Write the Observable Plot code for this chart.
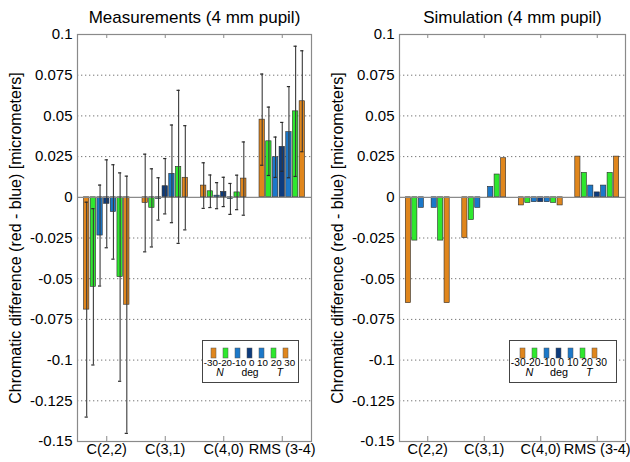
<!DOCTYPE html>
<html><head><meta charset="utf-8">
<script src="https://cdn.jsdelivr.net/npm/d3@7"></script>
<script src="https://cdn.jsdelivr.net/npm/@observablehq/plot@0.6"></script>
<style>
body{margin:0;background:#fff;}
#wrap{position:relative;width:630px;height:462px;overflow:hidden;background:#fff;}
#wrap > .p{position:absolute;top:0;}
#wrap > .lg{position:absolute;}
</style></head><body><div id="wrap"></div>
<script>
// ---- data ----
const groups = ["C(2,2)", "C(3,1)", "C(4,0)", "RMS (3-4)"];
const angles = ["-30", "-20", "-10", "0", "10", "20", "30"];
const angleColors = ["#e0861c", "#2ee82e", "#1b78c9", "#0d3b7d", "#1b78c9", "#2ee82e", "#e0861c"];
const legendSub = [["-30", "N"], ["0", "deg"], ["20", "T"]];
const yTicks = [-0.15, -0.125, -0.1, -0.075, -0.05, -0.025, 0, 0.025, 0.05, 0.075, 0.1];

// Measurements (4 mm pupil): mean and error, rows = groups, columns = angles
const measC22 = [-0.069, -0.055, -0.0235, -0.004, -0.009, -0.049, -0.066];
const measC31 = [-0.0035, -0.0065, -0.001, 0.0068, 0.0144, 0.0187, 0.012];
const measC40 = [0.0072, 0.0037, 0.001, 0.0033, -0.001, 0.003, 0.0115];
const measRMS = [0.0477, 0.0344, 0.0246, 0.031, 0.040, 0.0528, 0.059];
const errC22 = [0.066, 0.048, 0.031, 0.027, 0.029, 0.064, 0.079];
const errC31 = [0.030, 0.024, 0.013, 0.017, 0.030, 0.047, 0.032];
const errC40 = [0.014, 0.010, 0.008, 0.009, 0.0095, 0.0106, 0.0225];
const errRMS = [0.028, 0.021, 0.0124, 0.015, 0.028, 0.040, 0.031];

// Simulation (4 mm pupil)
const simC22 = [-0.065, -0.0266, -0.0065, 0, -0.0065, -0.0266, -0.065];
const simC31 = [-0.025, -0.014, -0.0065, 0, 0.0064, 0.014, 0.024];
const simC40 = [-0.005, -0.0035, -0.003, -0.003, -0.003, -0.0035, -0.005];
const simRMS = [0.025, 0.015, 0.0072, 0.003, 0.0072, 0.015, 0.025];

const titles = ["Measurements (4 mm pupil)", "Simulation (4 mm pupil)"];
const yLabel = "Chromatic difference (red - blue) [micrometers]";

// ---- build tables ----
function table(vals, errs) {
  const out = [];
  vals.forEach((row, gi) => row.forEach((v, k) => out.push({
    gi: gi + 1, k, v, e: errs ? errs[gi][k] : null, c: angleColors[k]
  })));
  return out;
}
const measData = table([measC22, measC31, measC40, measRMS], [errC22, errC31, errC40, errRMS]);
const simData = table([simC22, simC31, simC40, simRMS], null);
const legendRow = angles.map((a, i) => (i > 0 && !a.startsWith("-") ? " " : "") + a).join("");

const FONT = "'Liberation Sans', Arial, Helvetica, sans-serif";
const H = 462, MT = 34, MB = 21;
const STEP = 0.8 / 7, BW = STEP * 0.8;
const groupPos = groups.map((g, i) => i + 1);

function panel(data, title, width, ml, mr, withErr) {
  const fw = width - ml - mr, fh = H - MT - MB;
  const cap = 1.6 * 4 / fw;
  const cx = d => d.gi + (d.k - 3) * STEP;
  const marks = [
    Plot.ruleY(yTicks.filter(t => t !== 0 && t !== 0.1 && t !== -0.15), {y: d => d, stroke: "#666", strokeDasharray: "1.3,2.7", strokeWidth: 0.9}),
    Plot.rect(data, {x1: d => cx(d) - BW / 2, x2: d => cx(d) + BW / 2, y1: () => 0, y2: d => d.v,
      fill: d => d.c, stroke: "#2a2a2a", strokeWidth: 0.6}),
    Plot.ruleY([0], {stroke: "#8a8a8a", strokeWidth: 1.2}),
  ];
  if (withErr) {
    marks.push(
      Plot.ruleX(data, {x: cx, y1: d => d.v - d.e, y2: d => d.v + d.e, stroke: "#3a3a3a", strokeWidth: 1.1}),
      Plot.ruleY(data, {y: d => d.v - d.e, x1: d => cx(d) - cap, x2: d => cx(d) + cap, stroke: "#2a2a2a", strokeWidth: 1.2}),
      Plot.ruleY(data, {y: d => d.v + d.e, x1: d => cx(d) - cap, x2: d => cx(d) + cap, stroke: "#2a2a2a", strokeWidth: 1.2})
    );
  }
  marks.push(
    Plot.frame({stroke: "#8a8a8a", strokeWidth: 1.2}),
    Plot.ruleX(groupPos, {x: d => d, insetTop: fh - 5, stroke: "#8a8a8a"}),
    Plot.ruleX(groupPos, {x: d => d, insetBottom: fh - 4, stroke: "#8a8a8a"}),
    Plot.axisY(yTicks, {tickFormat: d => String(+d.toFixed(3)), tickSize: 0, tickPadding: 5, fontSize: 15, label: null}),
    Plot.axisX(groupPos, {tickFormat: i => groups[i - 1], tickSize: 0, tickPadding: 2, fontSize: 14.5, label: null}),
    Plot.text([title], {text: d => d, frameAnchor: "top", dy: -17, lineAnchor: "middle", fontSize: 17}),
    Plot.text([yLabel], {text: d => d, frameAnchor: "left", textAnchor: "middle", dx: -62, rotate: -90, lineAnchor: "middle", fontSize: 16})
  );
  return Plot.plot({
    width, height: H, marginLeft: ml, marginRight: mr, marginTop: MT, marginBottom: MB,
    style: {fontFamily: FONT, color: "#000", background: "transparent", overflow: "visible"},
    x: {domain: [0.5, 4.5]},
    y: {domain: [-0.15, 0.1]},
    marks
  });
}

function legend(step, w, fs, firstCenter) {
  const h = 41;
  const start = firstCenter - step / 2;
  const mid = start + step * 3.5;
  return Plot.plot({
    width: w, height: h, marginTop: 7, marginBottom: 24, marginLeft: 0, marginRight: 0,
    style: {fontFamily: FONT, color: "#000", background: "#fff", border: "1px solid #444", overflow: "visible"},
    x: {type: "band", domain: angles, range: [start, start + step * 7], paddingInner: 0.6, paddingOuter: 0.3, axis: null},
    y: {domain: [0, 1], axis: null},
    marks: [
      Plot.barY(angles, {x: d => d, y: () => 1, fill: (d, i) => angleColors[i], stroke: "#555", strokeWidth: 0.5}),
      Plot.text([legendRow], {text: d => d, frameAnchor: "bottom-left", textAnchor: "middle", dx: mid, dy: 7, fontSize: fs}),
      Plot.text(legendSub.filter(d => d[1] !== "deg"), {x: d => d[0], text: d => d[1], frameAnchor: "bottom", dy: 17.5,
        dx: step / 2, fontSize: fs + 0.5, fontStyle: "italic"}),
      Plot.text(legendSub.filter(d => d[1] === "deg"), {x: d => d[0], text: d => d[1], frameAnchor: "bottom", dy: 17.5,
        fontSize: fs + 0.5})
    ]
  });
}

const wrap = document.getElementById("wrap");
function place(el, cls, left, top) {
  const d = document.createElement("div");
  d.className = cls; d.style.left = left + "px"; if (top != null) d.style.top = top + "px";
  d.appendChild(el); wrap.appendChild(d);
}
place(panel(measData, titles[0], 315, 77, 4, true), "p", 0);
place(panel(simData, titles[1], 315, 84, 5, false), "p", 315);
place(legend(12, 95, 9.8, 10), "lg", 202, 340);
place(legend(12.8, 106, 10.3, 10), "lg", 509, 340);
</script>
</body></html>
